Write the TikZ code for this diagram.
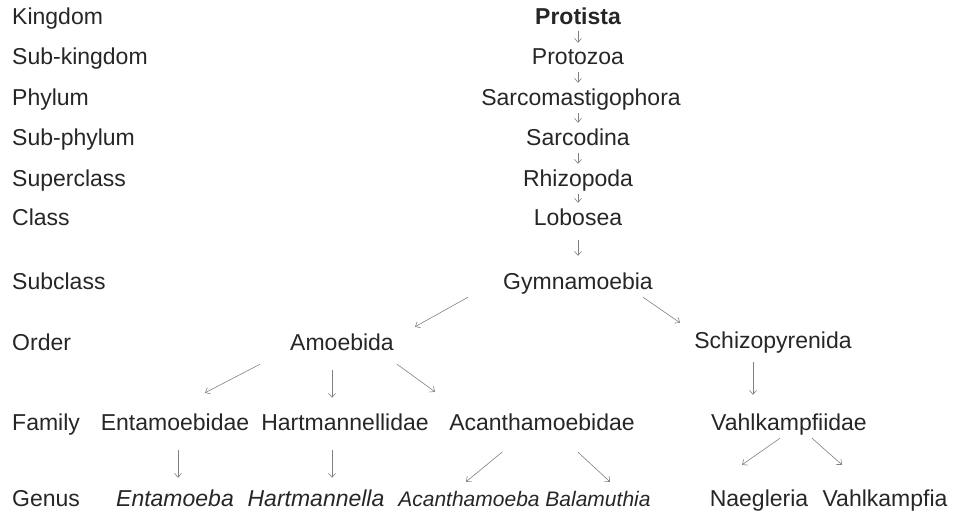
\documentclass[tikz,border=0pt]{standalone}
\usepackage{fontspec}
\setmainfont{Liberation Sans}
\usetikzlibrary{arrows.meta}

\tikzset{
  taxon/.style={anchor=base, inner sep=0pt, text height=17pt, text depth=5pt,
    text=black!85, font=\fontsize{23}{27}\selectfont},
  rank/.style={taxon, anchor=base west},
  arr/.style={-{Straight Barb[length=4pt,width=7pt]}, draw=black!50, line width=0.6pt},
}

\begin{document}
\begin{tikzpicture}[x=1pt,y=-1pt]
  \useasboundingbox (0,0) rectangle (960,522);

  % Ranks
  \node[rank] (rk1) at (12,24) {Kingdom};
  \node[rank] (rk2) at (12,64) {Sub-kingdom};
  \node[rank] (rk3) at (12,105) {Phylum};
  \node[rank] (rk4) at (12,145) {Sub-phylum};
  \node[rank] (rk5) at (12,186) {Superclass};
  \node[rank] (rk6) at (12,225) {Class};
  \node[rank] (rk7) at (12,289) {Subclass};
  \node[rank] (rk8) at (12,350) {Order};
  \node[rank] (rk9) at (12,430) {Family};
  \node[rank] (rk10) at (12,506) {Genus};

  % Main line
  \node[taxon,font=\fontsize{23}{27}\selectfont\bfseries] (prot) at (578,24) {Protista};
  \node[taxon] (protz) at (578,64) {Protozoa};
  \node[taxon] (sarcm) at (581,105) {Sarcomastigophora};
  \node[taxon] (sarcd) at (578,145) {Sarcodina};
  \node[taxon] (rhiz) at (578,186) {Rhizopoda};
  \node[taxon] (lobo) at (578,225) {Lobosea};
  \node[taxon] (gym) at (578,289) {Gymnamoebia};

  \draw[arr,shorten <=2pt,shorten >=4pt] (prot.south) -- (prot.south |- protz.north);
  \draw[arr,shorten <=3pt,shorten >=5pt] (protz.south) -- (protz.south |- sarcm.north);
  \draw[arr,shorten <=3pt,shorten >=5pt] (protz.south |- sarcm.south) -- (protz.south |- sarcd.north);
  \draw[arr,shorten <=3pt,shorten >=5pt] (sarcd.south) -- (sarcd.south |- rhiz.north);
  \draw[arr,shorten <=3pt,shorten >=5pt] (rhiz.south) -- (rhiz.south |- lobo.north);
  \draw[arr,shorten <=10pt,shorten >=16pt] (lobo.south) -- (lobo.south |- gym.north);

  % Orders
  \node[taxon] (amo) at (342,350) {Amoebida};
  \node[taxon] (schiz) at (773,348) {Schizopyrenida};
  \draw[arr] ([shift={(-110,3)}]gym.south) -- ([shift={(73,-6)}]amo.north);
  \draw[arr] ([shift={(65,3)}]gym.south) -- ([shift={(-93,-8)}]schiz.north);

  % Families
  \node[taxon] (entf) at (175,430) {Entamoebidae};
  \node[taxon] (hartf) at (345,430) {Hartmannellidae};
  \node[taxon] (acanf) at (542,430) {Acanthamoebidae};
  \node[taxon] (vahlf) at (789,430) {Vahlkampfiidae};
  \draw[arr] ([shift={(-82,9)}]amo.south) -- ([shift={(30,-20)}]entf.north);
  \draw[arr] ([shift={(-10,15)}]amo.south) -- ([shift={(-13,-15)}]hartf.north);
  \draw[arr] ([shift={(55,9)}]amo.south) -- ([shift={(-107,-21)}]acanf.north);
  \draw[arr] ([shift={(-20,9)}]schiz.south) -- ([shift={(-36,-18)}]vahlf.north);

  % Genera
  \node[taxon] (entg) at (175,506) {\itshape Entamoeba};
  \node[taxon] (hartg) at (316,506) {\itshape Hartmannella};
  \node[taxon,font=\fontsize{21}{25}\selectfont] (acang) at (469,506) {\itshape Acanthamoeba};
  \node[taxon,font=\fontsize{21}{25}\selectfont] (bala) at (598,506) {\itshape Balamuthia};
  \node[taxon] (naeg) at (759,506) {Naegleria};
  \node[taxon] (vahlg) at (885,506) {Vahlkampfia};
  \draw[arr] ([shift={(3,15)}]entf.south) -- ([shift={(3,-11)}]entg.north);
  \draw[arr] ([shift={(-13,15)}]hartf.south) -- ([shift={(16,-11)}]hartg.north);
  \draw[arr] ([shift={(-40,17)}]acanf.south) -- ([shift={(-3,-7)}]acang.north);
  \draw[arr] ([shift={(36,17)}]acanf.south) -- ([shift={(12,-7)}]bala.north);
  \draw[arr] ([shift={(-9,3)}]vahlf.south) -- ([shift={(-17,-24)}]naeg.north);
  \draw[arr] ([shift={(23,3)}]vahlf.south) -- ([shift={(-43,-24)}]vahlg.north);
\end{tikzpicture}
\end{document}
